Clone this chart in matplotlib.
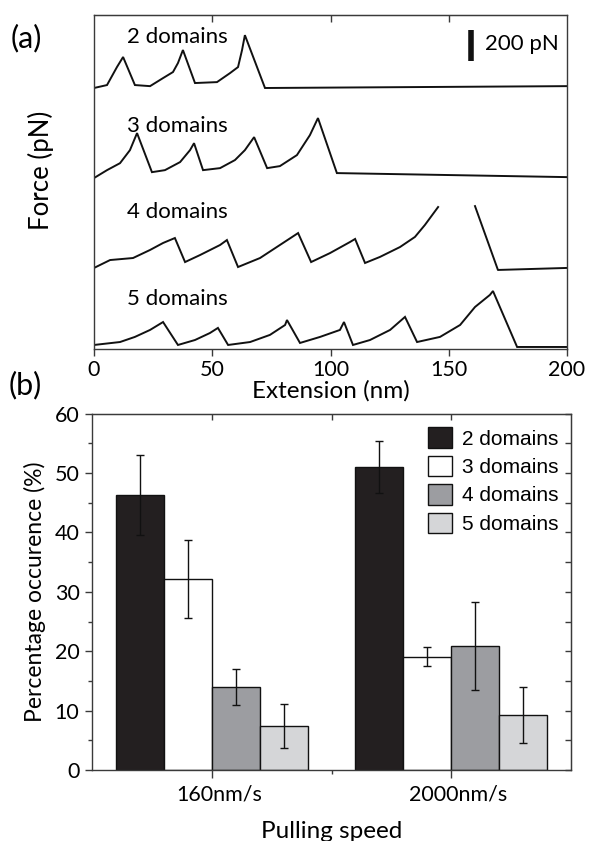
import matplotlib
matplotlib.use("Agg")
import matplotlib.pyplot as plt
import matplotlib.transforms as mtrans
from matplotlib.patches import Patch

# ---------------- data: panel (a) force-extension traces ----------------
# extension (nm), force relative to each trace's own baseline (pN)
ext2 = [0, 5.5, 9.7, 12.3, 17.3, 23.7, 29.2, 33.4, 35.5, 37.6, 42.7, 52.0, 57.5, 60.9, 62.6, 63.8, 72.3, 200]
f2 = [-6, 13, 129, 194, 13, 6, 58, 97, 155, 239, 26, 32, 90, 129, 239, 335, -6, 6]

ext3 = [0, 5.5, 11.0, 15.2, 18.2, 24.5, 30.0, 36.4, 40.6, 42.3, 46.1, 53.3, 59.6, 63.8, 67.7,
        73.2, 78.6, 85.8, 91.3, 94.7, 102.7, 200]
f3 = [-6, 45, 90, 174, 284, 32, 45, 97, 174, 219, 45, 58, 110, 174, 258,
      58, 71, 142, 271, 381, 26, 0]

ext4a = [0, 6.8, 16.5, 23.7, 29.2, 34.2, 38.5, 44.8, 53.3, 56.2, 60.9, 70.2, 78.6, 86.3, 91.8,
         99.8, 108.2, 110.4, 114.6, 120.9, 129.4, 135.7, 139.9, 145.5]
f4a = [-6, 45, 58, 110, 155, 187, 32, 77, 142, 174, 0, 58, 142, 219, 32,
       90, 161, 181, 26, 65, 129, 194, 271, 387]
ext4b = [161.1, 170.8, 200]
f4b = [393, -19, -6]

ext5 = [0, 11.0, 17.3, 23.7, 29.2, 35.5, 42.7, 49.0, 52.4, 56.7, 66.0, 74.4, 80.8, 81.6, 87.1,
        95.6, 104.0, 105.7, 109.5, 116.7, 125.2, 131.5, 136.6, 146.3, 154.8, 161.1, 167.4,
        168.7, 178.9, 200]
f5 = [0, 19, 52, 97, 148, 0, 32, 77, 110, 0, 19, 65, 129, 161, 13,
      52, 97, 148, 0, 32, 97, 181, 19, 52, 129, 245, 323,
      348, -13, -13]

trace_labels = ["2 domains", "3 domains", "4 domains", "5 domains"]
trace_offsets = [1690, 1109, 529, 26]          # pN vertical stacking offsets
label_heights = [1974, 1400, 845, 284]          # pN, baseline of the labels
scale_bar_pN = 200

# ---------------- data: panel (b) bar chart ----------------
speeds = ["160nm/s", "2000nm/s"]
domains = ["2 domains", "3 domains", "4 domains", "5 domains"]
pct = {
    "2 domains": [46.3, 51.0],
    "3 domains": [32.2, 19.1],
    "4 domains": [14.0, 20.8],
    "5 domains": [7.4, 9.2],
}
err = {
    "2 domains": [6.7, 4.4],
    "3 domains": [6.6, 1.6],
    "4 domains": [3.0, 7.4],
    "5 domains": [3.7, 4.7],
}
bar_colors = ["#231f20", "#ffffff", "#9c9da1", "#d5d6d8"]

# ---------------- figure ----------------
W, H = 591, 841
fig = plt.figure(figsize=(W / 100, H / 100), dpi=100)
MAIN = ["Lato", "DejaVu Sans"]
plt.rcParams["font.family"] = MAIN
SPINE = "#3a3a3a"

def fx(px):
    return px / W

def fy(py):
    return 1 - py / H

# ----- panel (a) -----
axa = fig.add_axes([fx(94), fy(349), fx(567) - fx(94), fy(15) - fy(349)])
axa.set_xlim(0, 200)
axa.set_ylim(0, 2155)

traces = [(ext2, f2), (ext3, f3), (ext4a, f4a), (ext5, f5)]
for (ex, ff), off in zip(traces, trace_offsets):
    axa.plot(ex, [v + off for v in ff], color="#111111", lw=1.4, solid_joinstyle="miter")
axa.plot(ext4b, [v + trace_offsets[2] for v in f4b], color="#111111", lw=1.4)

for lab, h in zip(trace_labels, label_heights):
    axa.text(14.0, h, lab, fontsize=16, ha="left", va="baseline")

# scale bar
axa.plot([159.6, 159.6], [1858, 1858 + scale_bar_pN], color="#111111", lw=4, solid_capstyle="butt")
axa.text(165.3, 1967, "200 pN", fontsize=16, ha="left", va="center")

axa.set_xticks([0, 50, 100, 150, 200])
axa.set_xticklabels(["0", "50", "100", "150", "200"], fontsize=15.5)
axa.set_yticks([])
axa.tick_params(axis="x", direction="out", length=5, width=1, pad=3, color=SPINE)
axa.set_xlabel("Extension (nm)", fontsize=17.5, labelpad=0)
axa.set_ylabel("Force (pN)", fontsize=18.5, labelpad=20)
axa.yaxis.set_label_coords(-0.085, 0.535)
for s in axa.spines.values():
    s.set_linewidth(1.0)
    s.set_color(SPINE)
secx = axa.secondary_xaxis("top")
secx.set_xticks([50, 100, 150])
secx.set_xticklabels([])
secx.tick_params(direction="in", length=5, width=1, color=SPINE)
secx.spines["top"].set_color(SPINE)

fig.text(fx(11), fy(38.5), "(a)", fontsize=22, ha="left", va="center")

# ----- panel (b) -----
axb = fig.add_axes([fx(92), fy(770), fx(571) - fx(92), fy(413.6) - fy(770)])
axb.set_xlim(0, 4)
axb.set_ylim(0, 60)
group_x = [1, 3]
width = 0.4
shifts = [-0.6, -0.2, 0.2, 0.6]
for d, c, sh in zip(domains, bar_colors, shifts):
    xs = [g + sh for g in group_x]
    axb.bar(xs, pct[d], width=width, color=c, edgecolor="#111111", linewidth=1.0, zorder=2)
    axb.errorbar(xs, pct[d], yerr=err[d], fmt="none", ecolor="#111111", elinewidth=1.0,
                 capsize=2.6, capthick=1.0, zorder=3)

axb.set_xticks(group_x)
axb.set_xticklabels(speeds, fontsize=15.5)
axb.set_xticks([2], minor=True)
axb.tick_params(axis="x", which="major", direction="out", length=5.5, width=1, pad=5, color=SPINE)
axb.tick_params(axis="x", which="minor", direction="out", length=3, width=1, color=SPINE)
shift = mtrans.ScaledTranslation(7 / 100, 0, fig.dpi_scale_trans)
for lbl in axb.get_xticklabels():
    lbl.set_transform(lbl.get_transform() + shift)
axb.set_yticks(range(0, 61, 10))
axb.set_yticklabels([str(v) for v in range(0, 61, 10)], fontsize=15.5)
axb.set_yticks(range(5, 60, 10), minor=True)
axb.tick_params(axis="y", which="major", direction="out", length=5, width=1, pad=4, color=SPINE)
axb.tick_params(axis="y", which="minor", direction="out", length=3, width=1, color=SPINE)
axb.set_xlabel("Pulling speed", fontsize=17.5, labelpad=12)
axb.set_ylabel("Percentage occurence (%)", fontsize=16.5, labelpad=6)
for s in axb.spines.values():
    s.set_linewidth(1.0)
    s.set_color(SPINE)
secr = axb.secondary_yaxis("right")
secr.set_yticks(range(0, 61, 5))
secr.set_yticklabels([])
secr.tick_params(direction="in", length=4.5, width=1, color=SPINE)
secr.spines["right"].set_color(SPINE)
sect = axb.secondary_xaxis("top")
sect.set_xticks([1, 2, 3])
sect.set_xticklabels([])
sect.tick_params(direction="in", length=4, width=1, color=SPINE)
sect.spines["top"].set_color(SPINE)

handles = [Patch(facecolor=c, edgecolor="#111111", linewidth=1.0) for c in bar_colors]
axb.legend(handles, domains, loc="upper left", bbox_to_anchor=(0.701, 0.962),
           frameon=False, borderpad=0, borderaxespad=0,
           prop={"family": ["Liberation Sans", "DejaVu Sans"], "size": 15},
           handlelength=1.15, handleheight=1.15, handletextpad=0.48, labelspacing=0.34)

fig.text(fx(9), fy(385), "(b)", fontsize=22, ha="left", va="center")

fig.savefig("out.png", dpi=100)
